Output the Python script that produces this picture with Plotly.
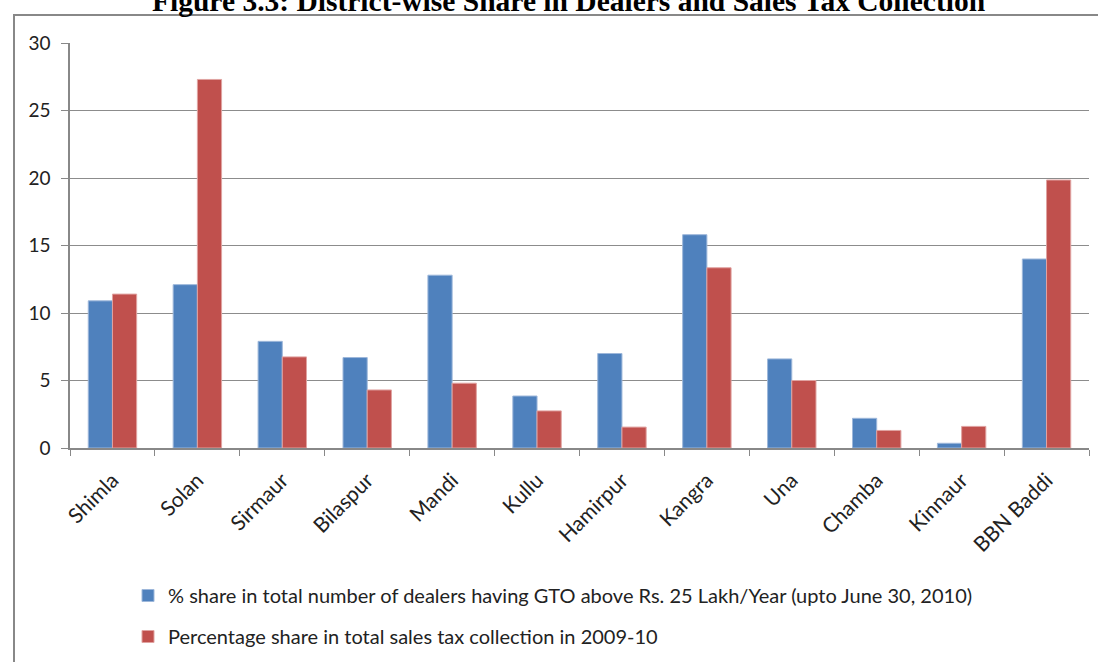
import plotly.graph_objects as go

districts = ["Shimla", "Solan", "Sirmaur", "Bilaspur", "Mandi", "Kullu",
             "Hamirpur", "Kangra", "Una", "Chamba", "Kinnaur", "BBN Baddi"]
dealers_share = [10.9, 12.1, 7.9, 6.7, 12.8, 3.85, 7.0, 15.8, 6.6, 2.2, 0.35, 14.0]
tax_share = [11.4, 27.3, 6.75, 4.3, 4.8, 2.75, 1.55, 13.35, 5.0, 1.3, 1.6, 19.85]

name1 = "% share in total number of dealers having GTO above Rs. 25 Lakh/Year (upto June 30, 2010)"
name2 = "Percentage share in total sales tax collection in 2009-10"

W, H = 1098, 662
L, R, T, B = 70, 9, 43, 214
pw, ph = W - L - R, H - T - B

def px_x(p):
    return (p - L) / pw

def px_y(p):
    return (H - B - p) / ph

fig = go.Figure()
fig.add_trace(go.Bar(x=districts, y=dealers_share, name=name1, legendgroup="a",
                     marker=dict(color="#4F81BD", line=dict(color="#9DB7DA", width=1))))
fig.add_trace(go.Bar(x=districts, y=tax_share, name=name2, legendgroup="b",
                     marker=dict(color="#C0504D", line=dict(color="#E0A3A1", width=1))))

font_main = "Lato, 'Open Sans', sans-serif"

fig.update_layout(
    width=W, height=H,
    margin=dict(l=L, r=R, t=T, b=B, pad=0, autoexpand=False),
    paper_bgcolor="white", plot_bgcolor="white",
    barmode="group", bargap=0.43, bargroupgap=0,
    showlegend=True,
    legend=dict(x=px_x(128), y=px_y(576), xanchor="left", yanchor="top",
                orientation="v", traceorder="grouped", tracegroupgap=12,
                font=dict(family=font_main, size=20, color="#222"),
                bgcolor="rgba(0,0,0,0)", itemwidth=30),
    font=dict(family=font_main, size=17, color="#222"),
    xaxis=dict(showgrid=False, showline=True, linecolor="#888", linewidth=1.5,
               ticks="outside", tickson="boundaries", ticklen=6, tickcolor="#888",
               tickangle=-45, tickfont=dict(family=font_main, size=21, color="#222"),
               ticklabelstandoff=10, automargin=False,
               range=[-0.5, 11.5]),
    yaxis=dict(range=[0, 30], dtick=5, showgrid=True, gridcolor="#8c8c8c", gridwidth=1.3,
               showline=True, linecolor="#888", linewidth=1.5, zeroline=False,
               ticks="outside", ticklen=7, tickcolor="#888", automargin=False,
               ticklabelstandoff=7,
               tickfont=dict(family=font_main, size=19, color="#222")),
    annotations=[dict(text="<b>Figure 3.3: District-wise Share in Dealers and Sales Tax Collection</b>",
                      xref="paper", yref="paper", x=px_x(568), y=px_y(19),
                      xanchor="center", yanchor="bottom", showarrow=False,
                      font=dict(family="'Liberation Serif', 'Times New Roman', serif", size=29.5, color="black"))],
    shapes=[dict(type="rect", xref="paper", yref="paper",
                 x0=px_x(14), x1=px_x(1110), y0=px_y(700), y1=px_y(15),
                 line=dict(color="#888", width=2), fillcolor="rgba(0,0,0,0)", layer="below")],
)

fig.write_html("out.html")
